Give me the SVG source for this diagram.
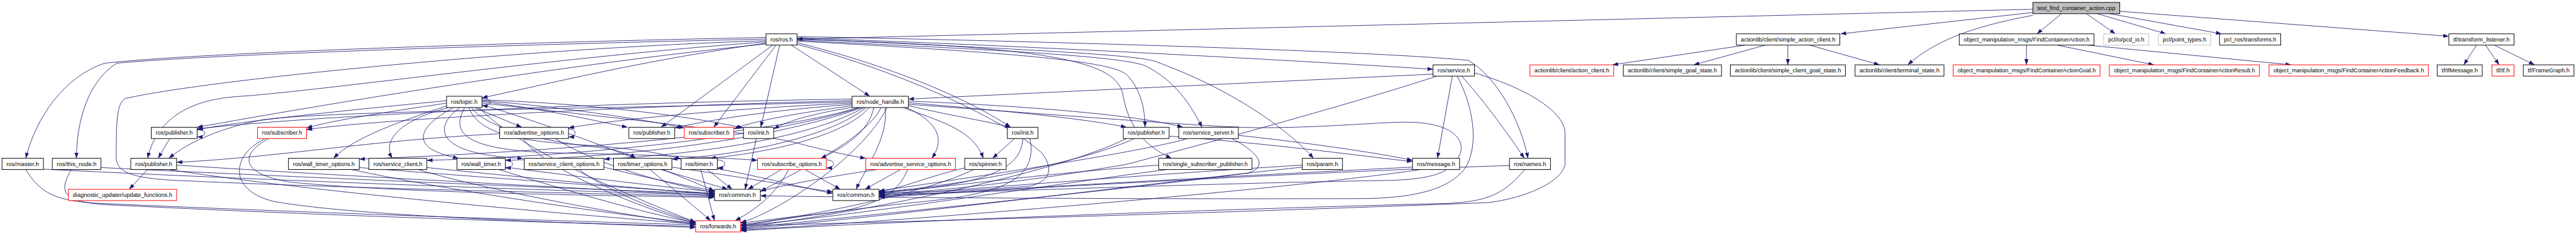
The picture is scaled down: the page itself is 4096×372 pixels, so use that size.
<svg xmlns="http://www.w3.org/2000/svg" width="4096" height="372" viewBox="0 0 4096 372">
<style>
.e{fill:none;stroke:#191970;stroke-width:1.3;marker-end:url(#a)}
.n rect{fill:#fff;stroke:#000;stroke-width:1.5}
.r rect{stroke:#f00}
.g rect{stroke:#bfbfbf}
.t rect{fill:#bfbfbf}
text{font-family:"Liberation Sans",Arial,sans-serif;font-size:14.8px;text-anchor:middle;fill:#000}
</style>
<defs>
<marker id="a" viewBox="0 0 14 10" refX="14" refY="5" markerWidth="14" markerHeight="10" markerUnits="userSpaceOnUse" orient="auto"><path d="M0,0 L14,5 L0,10 z" fill="#191970"/></marker>
</defs>
<rect width="4096" height="372" fill="#fff"/>
<g transform="scale(0.6397,0.6403)">
<g id="edges">
<path class="e" d="M5053,23 L1981,97"/>
<path class="e" d="M5053,31 L4575,84"/>
<path class="e" d="M5053,38 C4880,70 4800,110 4742,161"/>
<path class="e" d="M5124,34 L5063,84"/>
<path class="e" d="M5186,34 L5258,84"/>
<path class="e" d="M5213,34 L5384,84"/>
<path class="e" d="M5244,34 L5522,84"/>
<path class="e" d="M5269,28 L6087,90"/>
<path class="e" d="M4338,112 L4008,161"/>
<path class="e" d="M4388,112 L4210,161"/>
<path class="e" d="M4444,112 L4444,161"/>
<path class="e" d="M4498,112 L4672,161"/>
<path class="e" d="M5037,112 L5037,161"/>
<path class="e" d="M5113,112 L5354,161"/>
<path class="e" d="M5189,112 L5695,161"/>
<path class="e" d="M6156,112 L6124,161"/>
<path class="e" d="M6178,112 L6212,161"/>
<path class="e" d="M6200,112 L6300,161"/>
<path class="e" d="M1904,93 C1300,105 500,130 260,157 C160,190 90,290 64,393"/>
<path class="e" d="M1904,97 C1300,110 520,135 290,157 C220,200 190,300 190,393"/>
<path class="e" d="M1904,101 C1300,120 500,200 310,245 C290,260 289,300 289,390 C289,425 320,440 420,447 C900,470 1500,480 1776,488"/>
<path class="e" d="M1904,104 C1400,140 800,225 600,239 C480,245 390,290 367,393"/>
<path class="e" d="M1904,107 C1600,150 1400,200 1198,243"/>
<path class="e" d="M1904,109 C1400,160 800,260 490,316"/>
<path class="e" d="M1921,112 L1643,316"/>
<path class="e" d="M1929,112 L1774,316"/>
<path class="e" d="M1938,112 L1891,316"/>
<path class="e" d="M1967,112 L2162,239"/>
<path class="e" d="M1981,106 C2200,160 2400,240 2512,316"/>
<path class="e" d="M1981,110 C2250,180 2500,300 2590,380 C2620,420 2610,450 2560,462 C2400,475 2250,478 2185,480"/>
<path class="e" d="M1981,98 C2650,115 2770,160 2790,230 C2805,320 2850,365 2912,393"/>
<path class="e" d="M1981,102 C2500,130 2760,150 2800,185 C2835,220 2846,270 2846,316"/>
<path class="e" d="M1981,100 C2500,125 2800,140 2850,165 C2920,200 2960,260 2988,316"/>
<path class="e" d="M1981,96 C2500,120 2820,135 2870,152 C3060,220 3200,320 3265,393"/>
<path class="e" d="M1981,94 C2600,115 3300,155 3562,172"/>
<path class="e" d="M1981,91 C2500,100 3400,125 3650,150 C3720,190 3780,300 3798,393"/>
<path class="e" d="M3562,184 L2258,246"/>
<path class="e" d="M3610,189 L3573,393"/>
<path class="e" d="M3633,189 C3680,240 3740,320 3789,393"/>
<path class="e" d="M3571,189 C3450,230 3100,330 2800,408 C2500,460 2300,476 2185,482"/>
<path class="e" d="M3665,181 C3800,220 3890,280 3890,330 L3890,410 C3880,450 3800,490 3700,503 C3000,530 2100,555 1841,560"/>
<path class="e" d="M3622,189 C3660,260 3680,360 3640,420 C3600,470 3520,490 3400,493 C2800,495 2100,490 1890,486"/>
<path class="e" d="M2118,246 C1500,255 800,285 490,320"/>
<path class="e" d="M2118,250 C1500,265 900,300 762,322"/>
<path class="e" d="M2118,253 C1500,270 800,275 650,298 C560,315 470,350 420,393"/>
<path class="e" d="M2118,256 C1800,270 1500,300 1413,318"/>
<path class="e" d="M2118,259 C1900,275 1750,300 1677,318"/>
<path class="e" d="M2122,262 C1950,285 1860,305 1824,320"/>
<path class="e" d="M2128,265 C2000,285 1950,305 1923,320"/>
<path class="e" d="M2133,267 C1900,340 1300,380 893,395"/>
<path class="e" d="M2138,267 C1900,345 1400,390 1061,398"/>
<path class="e" d="M2143,267 C1900,355 1500,392 1256,398"/>
<path class="e" d="M2148,267 C2000,350 1700,385 1501,395"/>
<path class="e" d="M2153,267 C2050,350 1800,388 1670,395"/>
<path class="e" d="M2160,267 C2100,340 1900,380 1765,393"/>
<path class="e" d="M2172,267 C2160,330 2090,370 2040,393"/>
<path class="e" d="M2252,267 C2350,310 2340,360 2316,393"/>
<path class="e" d="M2245,267 C2330,300 2420,320 2444,393"/>
<path class="e" d="M2258,262 C2350,285 2450,300 2512,316"/>
<path class="e" d="M2258,255 C2500,275 2700,295 2800,316"/>
<path class="e" d="M2258,251 C2600,265 2850,290 2940,316"/>
<path class="e" d="M2190,267 C2150,350 1950,440 1890,476"/>
<path class="e" d="M2258,259 C2700,290 3000,315 3121,317 C3300,318 3450,300 3520,304 C3610,310 3640,345 3630,380 C3610,430 3560,445 3450,448 C3000,455 2400,478 2185,484"/>
<path class="e" d="M2205,267 C2150,380 1950,520 1841,553"/>
<path class="e" d="M2200,267 C2210,340 2150,420 2128,470"/>
<path class="e" d="M1110,250 C900,270 600,300 490,322"/>
<path class="e" d="M1110,256 C950,280 820,300 762,318"/>
<path class="e" d="M1180,267 L1297,316"/>
<path class="e" d="M1110,263 C1000,300 880,340 829,393"/>
<path class="e" d="M1115,267 C990,300 950,350 975,393"/>
<path class="e" d="M1127,267 C1030,320 1020,370 1140,393"/>
<path class="e" d="M1143,267 C1070,320 1090,385 1300,393"/>
<path class="e" d="M1155,267 C1120,330 1150,375 1400,380 C1650,385 1800,392 1883,398"/>
<path class="e" d="M1165,267 C1190,330 1280,350 1450,360 C1600,370 1660,385 1693,395"/>
<path class="e" d="M1172,267 C1210,320 1350,350 1480,365 C1540,372 1570,385 1580,393"/>
<path class="e" d="M1198,252 C1350,270 1480,300 1560,316"/>
<path class="e" d="M1198,250 C1400,265 1620,300 1701,318"/>
<path class="e" d="M1198,248 C1500,258 1750,295 1848,318"/>
<path class="e" d="M1198,256 C1500,290 1900,330 2000,360 C2080,380 2120,388 2152,393"/>
<path class="e" d="M1198,260 C1400,320 1650,420 1776,474"/>
<path class="e" d="M1190,267 C1300,380 1600,500 1729,552"/>
<path class="e" d="M1198,245 C1225,242 1225,265 1198,262"/>
<path class="e" d="M490,322 C515,322 515,340 490,340"/>
<path class="e" d="M1413,320 C1435,320 1435,340 1413,340"/>
<path class="e" d="M1256,397 C1280,397 1280,417 1256,417"/>
<path class="e" d="M1783,397 C1808,397 1808,417 1783,417"/>
<path class="e" d="M2054,397 C2078,397 2078,417 2054,417"/>
<path class="e" d="M422,344 L393,393"/>
<path class="e" d="M367,421 L321,470"/>
<path class="e" d="M108,420 C600,445 1400,475 1776,484"/>
<path class="e" d="M64,421 C100,480 140,500 250,505 C800,530 1500,552 1729,558"/>
<path class="e" d="M251,416 C700,438 1400,468 1776,481"/>
<path class="e" d="M177,421 C150,470 145,500 260,508 C900,540 1500,556 1729,562"/>
<path class="e" d="M439,410 C900,440 1500,470 1776,486"/>
<path class="e" d="M420,421 C800,480 1500,540 1729,556"/>
<path class="e" d="M668,344 C600,380 590,430 720,452 C1000,480 1500,485 1776,490"/>
<path class="e" d="M660,344 C580,380 560,470 680,500 C900,540 1500,555 1729,565"/>
<path class="e" d="M1242,332 C900,350 700,390 439,403"/>
<path class="e" d="M1380,344 C1500,420 1700,465 1776,478"/>
<path class="e" d="M1300,344 C1350,420 1600,520 1729,554"/>
<path class="e" d="M893,416 C1200,440 1600,470 1776,480"/>
<path class="e" d="M874,421 C1100,470 1500,530 1729,554"/>
<path class="e" d="M1061,416 C1300,440 1600,470 1776,482"/>
<path class="e" d="M1040,421 C1200,470 1550,535 1729,557"/>
<path class="e" d="M1256,415 C1450,440 1650,465 1776,476"/>
<path class="e" d="M1240,421 C1400,470 1600,530 1729,553"/>
<path class="e" d="M1501,415 C1600,440 1700,460 1776,474"/>
<path class="e" d="M1440,421 C1500,470 1650,530 1729,551"/>
<path class="e" d="M1643,421 L1809,470"/>
<path class="e" d="M1616,421 L1767,548"/>
<path class="e" d="M1670,415 C1850,440 1980,465 2070,476"/>
<path class="e" d="M1758,421 L1820,470"/>
<path class="e" d="M1742,421 L1776,548"/>
<path class="e" d="M1783,419 C1900,440 2000,468 2070,480"/>
<path class="e" d="M1942,421 L1859,470"/>
<path class="e" d="M1960,421 C1930,480 1880,520 1827,548"/>
<path class="e" d="M2001,421 L2089,470"/>
<path class="e" d="M2238,421 L2150,470"/>
<path class="e" d="M2256,421 C2230,490 2150,525 2000,535 C1950,540 1880,550 1841,554"/>
<path class="e" d="M2180,421 C2050,440 1950,460 1890,474"/>
<path class="e" d="M2398,417 C2300,440 2250,465 2185,476"/>
<path class="e" d="M2420,421 C2300,480 2000,540 1841,558"/>
<path class="e" d="M2522,344 L2467,393"/>
<path class="e" d="M2542,344 C2540,420 2450,460 2185,478"/>
<path class="e" d="M2560,344 C2580,440 2500,480 2300,500 C2100,520 1900,550 1841,562"/>
<path class="e" d="M1880,344 L1852,470"/>
<path class="e" d="M2906,338 C3200,360 3400,390 3511,401"/>
<path class="e" d="M2820,344 C2700,400 2400,460 2185,477"/>
<path class="e" d="M2800,344 C2650,420 2200,520 1841,565"/>
<path class="e" d="M3078,336 C3300,360 3450,385 3511,398"/>
<path class="e" d="M2952,344 C2900,360 2700,400 2185,474"/>
<path class="e" d="M3062,344 C3150,390 3140,420 3100,430 C2800,470 2200,530 1841,567"/>
<path class="e" d="M2880,410 C2600,430 2300,470 2185,480"/>
<path class="e" d="M2900,421 C2600,460 2100,540 1841,560"/>
<path class="e" d="M3237,410 C2900,430 2400,470 2185,486"/>
<path class="e" d="M3237,415 C2900,450 2200,540 1841,569"/>
<path class="e" d="M3511,415 C3000,440 2400,475 2185,488"/>
<path class="e" d="M3530,421 C3200,470 2300,545 1841,571"/>
<path class="e" d="M3752,411 C3300,425 2500,470 2185,490"/>
<path class="e" d="M3790,421 C3740,480 3700,500 3600,505 C3000,520 2200,550 1841,573"/>
</g>
<g id="n_top" class="n t"><rect x="5053" y="6" width="216" height="28"/><text x="5161" y="25" textLength="194" lengthAdjust="spacingAndGlyphs">test_find_container_action.cpp</text></g>
<g id="n_ros" class="n"><rect x="1904" y="84" width="77" height="28"/><text x="1942.5" y="103" textLength="55" lengthAdjust="spacingAndGlyphs">ros/ros.h</text></g>
<g id="n_sac" class="n"><rect x="4316" y="84" width="257" height="28"/><text x="4444.5" y="103" textLength="235" lengthAdjust="spacingAndGlyphs">actionlib/client/simple_action_client.h</text></g>
<g id="n_fca" class="n"><rect x="4870" y="84" width="335" height="28"/><text x="5037.5" y="103" textLength="313" lengthAdjust="spacingAndGlyphs">object_manipulation_msgs/FindContainerAction.h</text></g>
<g id="n_pcd" class="n g"><rect x="5229" y="84" width="112" height="28"/><text x="5285" y="103" textLength="90" lengthAdjust="spacingAndGlyphs">pcl/io/pcd_io.h</text></g>
<g id="n_pt" class="n g"><rect x="5365" y="84" width="130" height="28"/><text x="5430" y="103" textLength="108" lengthAdjust="spacingAndGlyphs">pcl/point_types.h</text></g>
<g id="n_tr" class="n"><rect x="5517" y="84" width="152" height="28"/><text x="5593" y="103" textLength="130" lengthAdjust="spacingAndGlyphs">pcl_ros/transforms.h</text></g>
<g id="n_tl" class="n"><rect x="6087" y="84" width="162" height="28"/><text x="6168" y="103" textLength="140" lengthAdjust="spacingAndGlyphs">tf/transform_listener.h</text></g>
<g id="n_srv" class="n"><rect x="3562" y="161" width="103" height="28"/><text x="3613.5" y="180" textLength="81" lengthAdjust="spacingAndGlyphs">ros/service.h</text></g>
<g id="n_ac" class="n r"><rect x="3803" y="161" width="208" height="28"/><text x="3907" y="180" textLength="186" lengthAdjust="spacingAndGlyphs">actionlib/client/action_client.h</text></g>
<g id="n_sgs" class="n"><rect x="4035" y="161" width="244" height="28"/><text x="4157" y="180" textLength="222" lengthAdjust="spacingAndGlyphs">actionlib/client/simple_goal_state.h</text></g>
<g id="n_scgs" class="n"><rect x="4301" y="161" width="286" height="28"/><text x="4444" y="180" textLength="264" lengthAdjust="spacingAndGlyphs">actionlib/client/simple_client_goal_state.h</text></g>
<g id="n_ts" class="n"><rect x="4611" y="161" width="221" height="28"/><text x="4721.5" y="180" textLength="199" lengthAdjust="spacingAndGlyphs">actionlib/client/terminal_state.h</text></g>
<g id="n_goal" class="n r"><rect x="4855" y="161" width="365" height="28"/><text x="5037.5" y="180" textLength="343" lengthAdjust="spacingAndGlyphs">object_manipulation_msgs/FindContainerActionGoal.h</text></g>
<g id="n_res" class="n r"><rect x="5243" y="161" width="373" height="28"/><text x="5429.5" y="180" textLength="351" lengthAdjust="spacingAndGlyphs">object_manipulation_msgs/FindContainerActionResult.h</text></g>
<g id="n_fb" class="n r"><rect x="5640" y="161" width="396" height="28"/><text x="5838" y="180" textLength="374" lengthAdjust="spacingAndGlyphs">object_manipulation_msgs/FindContainerActionFeedback.h</text></g>
<g id="n_tfm" class="n"><rect x="6058" y="161" width="112" height="28"/><text x="6114" y="180" textLength="90" lengthAdjust="spacingAndGlyphs">tf/tfMessage.h</text></g>
<g id="n_tf" class="n r"><rect x="6194" y="161" width="55" height="28"/><text x="6221.5" y="180" textLength="33" lengthAdjust="spacingAndGlyphs">tf/tf.h</text></g>
<g id="n_fg" class="n"><rect x="6272" y="161" width="126" height="28"/><text x="6335" y="180" textLength="104" lengthAdjust="spacingAndGlyphs">tf/FrameGraph.h</text></g>
<g id="n_topic" class="n"><rect x="1110" y="239" width="88" height="28"/><text x="1154" y="258" textLength="66" lengthAdjust="spacingAndGlyphs">ros/topic.h</text></g>
<g id="n_nh" class="n"><rect x="2118" y="239" width="140" height="28"/><text x="2188" y="258" textLength="118" lengthAdjust="spacingAndGlyphs">ros/node_handle.h</text></g>
<g id="n_pub1" class="n"><rect x="376" y="316" width="114" height="28"/><text x="433" y="335" textLength="92" lengthAdjust="spacingAndGlyphs">ros/publisher.h</text></g>
<g id="n_sub1" class="n r"><rect x="640" y="316" width="122" height="28"/><text x="701" y="335" textLength="100" lengthAdjust="spacingAndGlyphs">ros/subscriber.h</text></g>
<g id="n_ao" class="n"><rect x="1242" y="316" width="171" height="28"/><text x="1327.5" y="335" textLength="149" lengthAdjust="spacingAndGlyphs">ros/advertise_options.h</text></g>
<g id="n_pub2" class="n"><rect x="1563" y="316" width="114" height="28"/><text x="1620" y="335" textLength="92" lengthAdjust="spacingAndGlyphs">ros/publisher.h</text></g>
<g id="n_sub2" class="n r"><rect x="1701" y="316" width="123" height="28"/><text x="1762.5" y="335" textLength="101" lengthAdjust="spacingAndGlyphs">ros/subscriber.h</text></g>
<g id="n_init1" class="n"><rect x="1848" y="316" width="75" height="28"/><text x="1885.5" y="335" textLength="53" lengthAdjust="spacingAndGlyphs">ros/init.h</text></g>
<g id="n_init2" class="n"><rect x="2504" y="316" width="76" height="28"/><text x="2542" y="335" textLength="54" lengthAdjust="spacingAndGlyphs">ros/init.h</text></g>
<g id="n_pub3" class="n"><rect x="2792" y="316" width="114" height="28"/><text x="2849" y="335" textLength="92" lengthAdjust="spacingAndGlyphs">ros/publisher.h</text></g>
<g id="n_ss" class="n"><rect x="2930" y="316" width="148" height="28"/><text x="3004" y="335" textLength="126" lengthAdjust="spacingAndGlyphs">ros/service_server.h</text></g>
<g id="n_master" class="n"><rect x="5" y="393" width="103" height="28"/><text x="56.5" y="412" textLength="81" lengthAdjust="spacingAndGlyphs">ros/master.h</text></g>
<g id="n_thisnode" class="n"><rect x="130" y="393" width="121" height="28"/><text x="190.5" y="412" textLength="99" lengthAdjust="spacingAndGlyphs">ros/this_node.h</text></g>
<g id="n_pub0" class="n"><rect x="325" y="393" width="114" height="28"/><text x="382" y="412" textLength="92" lengthAdjust="spacingAndGlyphs">ros/publisher.h</text></g>
<g id="n_wto" class="n"><rect x="717" y="393" width="176" height="28"/><text x="805" y="412" textLength="154" lengthAdjust="spacingAndGlyphs">ros/wall_timer_options.h</text></g>
<g id="n_sc" class="n"><rect x="917" y="393" width="144" height="28"/><text x="989" y="412" textLength="122" lengthAdjust="spacingAndGlyphs">ros/service_client.h</text></g>
<g id="n_wt" class="n"><rect x="1136" y="393" width="120" height="28"/><text x="1196" y="412" textLength="98" lengthAdjust="spacingAndGlyphs">ros/wall_timer.h</text></g>
<g id="n_sco" class="n"><rect x="1303" y="393" width="198" height="28"/><text x="1402" y="412" textLength="176" lengthAdjust="spacingAndGlyphs">ros/service_client_options.h</text></g>
<g id="n_to" class="n"><rect x="1525" y="393" width="145" height="28"/><text x="1597.5" y="412" textLength="123" lengthAdjust="spacingAndGlyphs">ros/timer_options.h</text></g>
<g id="n_timer" class="n"><rect x="1693" y="393" width="90" height="28"/><text x="1738" y="412" textLength="68" lengthAdjust="spacingAndGlyphs">ros/timer.h</text></g>
<g id="n_so" class="n r"><rect x="1883" y="393" width="171" height="28"/><text x="1968.5" y="412" textLength="149" lengthAdjust="spacingAndGlyphs">ros/subscribe_options.h</text></g>
<g id="n_aso" class="n r"><rect x="2152" y="393" width="223" height="28"/><text x="2263.5" y="412" textLength="201" lengthAdjust="spacingAndGlyphs">ros/advertise_service_options.h</text></g>
<g id="n_spin" class="n"><rect x="2398" y="393" width="103" height="28"/><text x="2449.5" y="412" textLength="81" lengthAdjust="spacingAndGlyphs">ros/spinner.h</text></g>
<g id="n_ssp" class="n"><rect x="2880" y="393" width="232" height="28"/><text x="2996" y="412" textLength="210" lengthAdjust="spacingAndGlyphs">ros/single_subscriber_publisher.h</text></g>
<g id="n_param" class="n"><rect x="3237" y="393" width="100" height="28"/><text x="3287" y="412" textLength="78" lengthAdjust="spacingAndGlyphs">ros/param.h</text></g>
<g id="n_msg" class="n"><rect x="3511" y="393" width="117" height="28"/><text x="3569.5" y="412" textLength="95" lengthAdjust="spacingAndGlyphs">ros/message.h</text></g>
<g id="n_names" class="n"><rect x="3752" y="393" width="102" height="28"/><text x="3803" y="412" textLength="80" lengthAdjust="spacingAndGlyphs">ros/names.h</text></g>
<g id="n_du" class="n r"><rect x="170" y="470" width="269" height="28"/><text x="304.5" y="489" textLength="247" lengthAdjust="spacingAndGlyphs">diagnostic_updater/update_functions.h</text></g>
<g id="n_com1" class="n"><rect x="1776" y="470" width="114" height="28"/><text x="1833" y="489" textLength="92" lengthAdjust="spacingAndGlyphs">ros/common.h</text></g>
<g id="n_com2" class="n"><rect x="2070" y="470" width="115" height="28"/><text x="2127.5" y="489" textLength="93" lengthAdjust="spacingAndGlyphs">ros/common.h</text></g>
<g id="n_fwd" class="n r"><rect x="1729" y="548" width="112" height="28"/><text x="1785" y="567" textLength="90" lengthAdjust="spacingAndGlyphs">ros/forwards.h</text></g>
</g>
</svg>
